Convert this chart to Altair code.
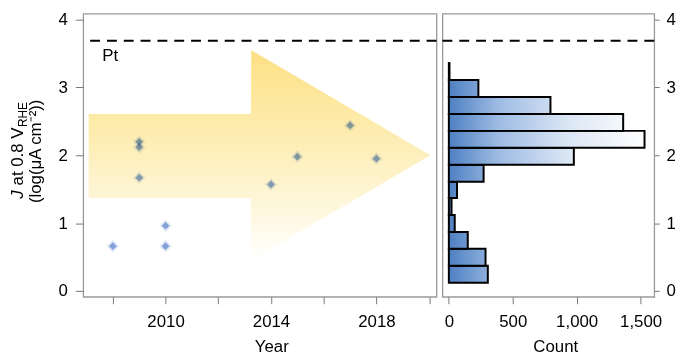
import altair as alt
import pandas as pd

# ---- data ----
years = [2008, 2009, 2009, 2009, 2010, 2010, 2014, 2015, 2017, 2018]
j_values = [0.66, 2.20, 2.12, 1.67, 0.96, 0.66, 1.57, 1.98, 2.44, 1.95]

bin_lo = [0.12, 0.37, 0.62, 0.87, 1.12, 1.37, 1.61, 1.86, 2.11, 2.36, 2.61, 2.86, 3.11]
bin_hi = [0.37, 0.62, 0.87, 1.12, 1.37, 1.61, 1.86, 2.11, 2.36, 2.61, 2.86, 3.11, 3.36]
counts = [305, 287, 148, 46, 21, 64, 272, 978, 1531, 1364, 795, 231, 5]

pt_level = [3.69]

arrow_x = [2007.08, 2013.24, 2013.25, 2020.05]
arrow_top = [2.61, 2.61, 3.55, 2.00]
arrow_bot = [1.37, 1.37, 0.45, 2.00]

year_ticks = [2008, 2010, 2012, 2014, 2016, 2018, 2020]
j_ticks = [0, 1, 2, 3, 4]
count_ticks = [0, 500, 1000, 1500]

# ---- layout ----
W1, W2, H = 357, 214, 286
FONT = "Liberation Sans"

ys = alt.Scale(domain=[-0.0875, 4.0875], nice=False, zero=False)
xs_year = alt.Scale(domain=[2006.875, 2020.28], nice=False, zero=False)
xs_count = alt.Scale(domain=[-50, 1607], nice=False, zero=False)

y_axis_left = alt.Axis(values=j_ticks, tickSize=8, labelPadding=8, title=None, orient="left",
                       labelExpr="format(datum.value, 'd')")
y_axis_right = alt.Axis(values=j_ticks, tickSize=5, labelPadding=7, title=None, orient="right",
                        labelExpr="format(datum.value, 'd')")
x_axis_year = alt.Axis(values=year_ticks, tickSize=7, labelPadding=10,
                       labelExpr="datum.value % 4 == 2 ? format(datum.value, 'd') : ''",
                       title="Year", titleX=190, titleY=55, titleBaseline="alphabetic",
                       titleAnchor="start", titleAlign="center")
x_axis_count = alt.Axis(values=count_ticks, tickSize=7, labelPadding=10,
                        labelExpr="format(datum.value, ',')",
                        title="Count", titleX=114, titleY=55, titleBaseline="alphabetic",
                        titleAnchor="start", titleAlign="center")

arrow_df = pd.DataFrame({"x": arrow_x, "top": arrow_top, "bot": arrow_bot})
pts_df = pd.DataFrame({"x": years, "y": j_values})
pt_df = pd.DataFrame({"y": pt_level})

arrow_grad = alt.Gradient(
    gradient="linear",
    stops=[
        alt.GradientStop(color="#fde084", offset=0),
        alt.GradientStop(color="#fdeaa6", offset=0.31),
        alt.GradientStop(color="#fef6d8", offset=0.72),
        alt.GradientStop(color="#ffffff", offset=1),
    ],
    x1=0, x2=0, y1=0, y2=1,
)

arrow = alt.Chart(arrow_df).mark_area(fill=arrow_grad).encode(
    x=alt.X("x:Q", scale=xs_year, axis=x_axis_year),
    y=alt.Y("top:Q", scale=ys, axis=y_axis_left),
    y2="bot:Q",
)

rule_left = alt.Chart(pt_df).mark_rule(color="black", strokeWidth=2, strokeDash=[10, 7]).encode(
    y=alt.Y("y:Q", scale=ys, axis=y_axis_left)
)

halo = alt.Chart(pts_df).mark_point(shape="diamond", filled=True, size=150, color="#8fb0e0",
                                    opacity=0.3, blend="multiply").encode(
    x=alt.X("x:Q", scale=xs_year, axis=x_axis_year),
    y=alt.Y("y:Q", scale=ys, axis=y_axis_left),
)
pts = alt.Chart(pts_df).mark_point(shape="diamond", filled=True, size=60, color="#7a9fd8",
                                   opacity=0.8, blend="multiply").encode(
    x=alt.X("x:Q", scale=xs_year, axis=x_axis_year),
    y=alt.Y("y:Q", scale=ys, axis=y_axis_left),
)

pt_label = alt.Chart(pt_df).mark_text(text="Pt", align="left", baseline="middle", fontSize=17,
                                      font=FONT, color="black").encode(
    x=alt.datum(2007.6), y=alt.datum(3.46)
)

# y title (rotated, with italic J and subscript RHE)
TY = 139
LX1 = -60.5
t_j = alt.Chart(pt_df).mark_text(text="J", angle=270, align="left", baseline="alphabetic",
                                 fontSize=17, font=FONT, fontStyle="italic", dx=-48).encode(
    x=alt.value(LX1), y=alt.value(TY))
t_at = alt.Chart(pt_df).mark_text(text="at 0.8 V", angle=270, align="left", baseline="alphabetic",
                                  fontSize=17, font=FONT, dx=-34.5).encode(
    x=alt.value(LX1), y=alt.value(TY))
t_rhe = alt.Chart(pt_df).mark_text(text="RHE", angle=270, align="left", baseline="alphabetic",
                                   fontSize=12, font=FONT, dx=24.5, dy=4).encode(
    x=alt.value(LX1), y=alt.value(TY))
t_unit = alt.Chart(pt_df).mark_text(text="(log(\u03bcA cm\u207b\u00b2))", angle=270, align="center",
                                    baseline="alphabetic", fontSize=17, font=FONT).encode(
    x=alt.value(-42.5), y=alt.value(TY))

left = alt.layer(arrow, rule_left, halo, pts, pt_label, t_j, t_at, t_rhe, t_unit).properties(
    width=W1, height=H)

# ---- histogram ----
G = 1540.0
bar_layers = []
for i in range(len(counts)):
    c = counts[i]
    grad = alt.Gradient(
        gradient="linear",
        stops=[
            alt.GradientStop(color="#4f80c2", offset=0),
            alt.GradientStop(color="#9dbbe3", offset=0.25),
            alt.GradientStop(color="#dbe6f4", offset=0.6),
            alt.GradientStop(color="#ffffff", offset=1),
        ],
        x1=0, x2=G / max(c, 1), y1=0, y2=0,
    )
    d = pd.DataFrame({"base": [0], "count": [c], "lo": [bin_lo[i]], "hi": [bin_hi[i]]})
    bar_layers.append(
        alt.Chart(d).mark_rect(fill=grad, stroke="black", strokeWidth=2).encode(
            x=alt.X("base:Q", scale=xs_count, axis=x_axis_count),
            x2="count:Q",
            y=alt.Y("lo:Q", scale=ys, axis=y_axis_right),
            y2="hi:Q",
        )
    )

rule_right = alt.Chart(pt_df).mark_rule(color="black", strokeWidth=2, strokeDash=[10, 7]).encode(
    y=alt.Y("y:Q", scale=ys, axis=y_axis_right)
)

right = alt.layer(*bar_layers, rule_right).properties(width=W2, height=H)

chart = alt.hconcat(left, right, spacing=2).properties(
    padding=0
).configure_view(
    stroke="#9a9a9a", strokeWidth=1.3
).configure_axis(
    domain=False, grid=False,
    labelFont=FONT, labelFontSize=17, labelColor="black",
    tickColor="#777", tickWidth=1,
    titleFont=FONT, titleFontSize=17, titleFontWeight="normal", titleColor="black",
)

chart.save("out.html", embed_options={"renderer": "svg", "actions": False})
